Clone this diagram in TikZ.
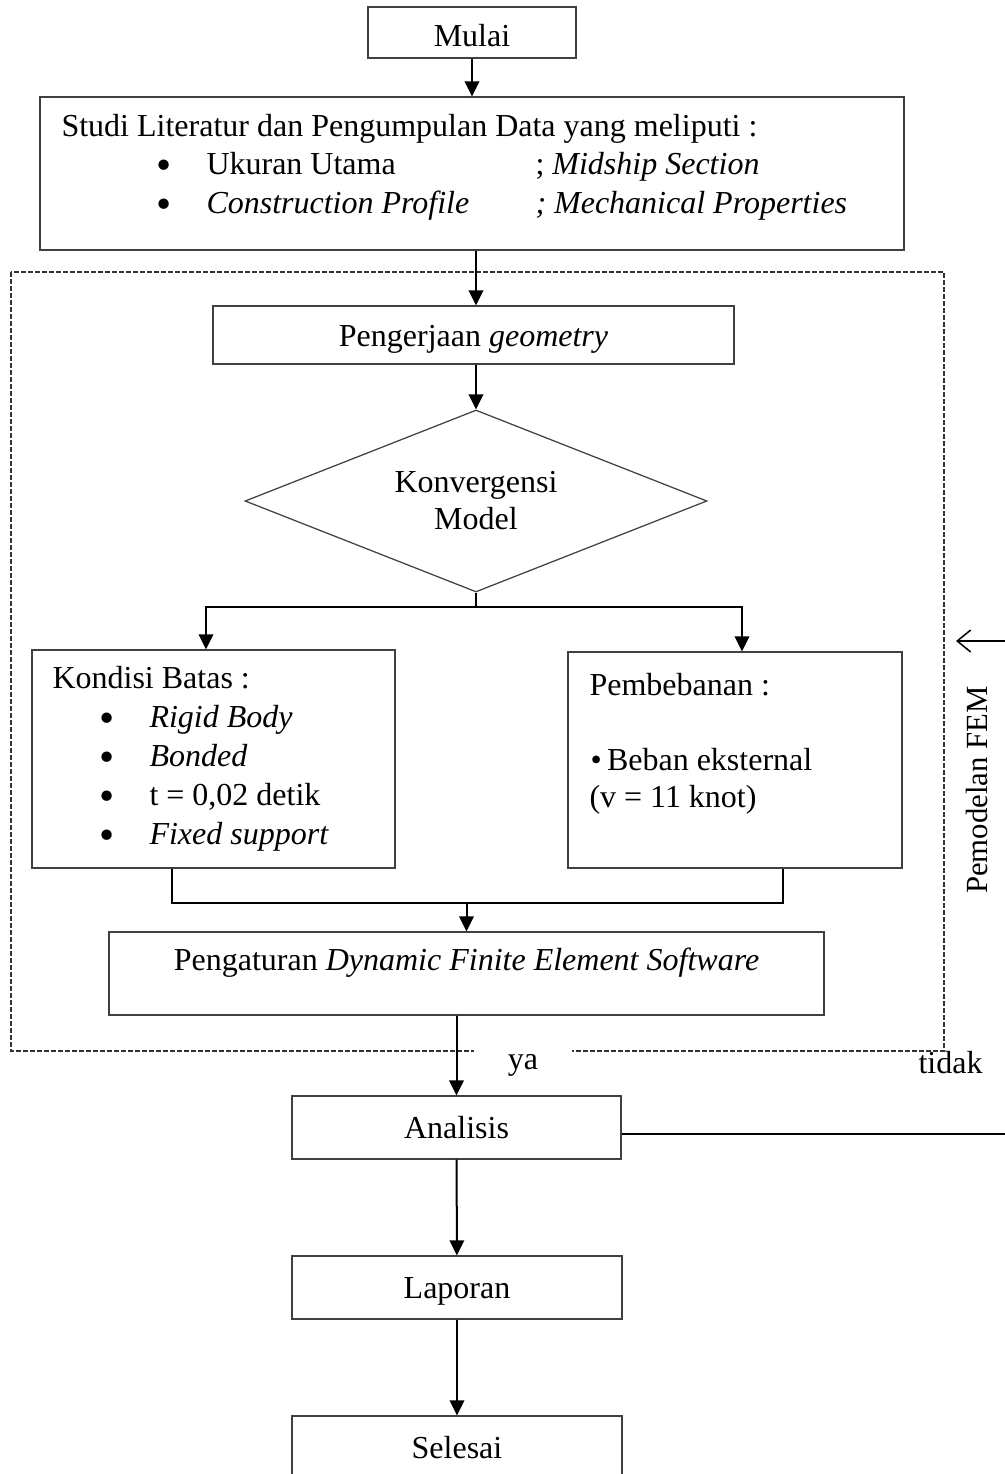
\documentclass[tikz,border=0pt]{standalone}
\usepackage{fontspec}
\setmainfont{Liberation Serif}
\usetikzlibrary{arrows.meta,shapes.geometric}

\newcommand{\butir}{\raisebox{-2.3pt}{\scalebox{1.35}{\textbullet}}}

\begin{document}
\begin{tikzpicture}[
    x=0.4pt, y=-0.4pt,
    font=\fontsize{12.8}{14.8}\selectfont,
    box/.style={draw=black!75, line width=0.5pt, inner sep=0pt, align=center, text height=9.2pt, text depth=0.4pt},
    decision/.style={diamond, draw=black!75, line width=0.5pt, aspect=2.5, inner sep=0pt, align=center, minimum width=184.8pt, minimum height=72.8pt},
    teks/.style={anchor=base west, inner sep=0pt},
    titik/.style={anchor=base, inner sep=0pt},
    arrow/.style={-{Triangle[length=6pt,width=5.8pt]}, line width=0.8pt},
    line/.style={line width=0.8pt},
    grup/.style={draw=black!80, line width=0.5pt, dash pattern=on 1.8pt off 1pt},
    balik/.style={-{Straight Barb[length=5.4pt,width=8.8pt]}, line width=0.6pt}
]
    \useasboundingbox (0,0) rectangle (1005,1474);
    \clip (0,0) rectangle (1005,1474);

    % Pemodelan FEM group
    \draw[grup] (11,272) rectangle (944,1051);

    % Main boxes
    \node[box, minimum width=83.2pt, minimum height=20.4pt, text height=11.6pt] (mulai) at (472,32.5) {Mulai};
    \node[box, minimum width=345.6pt, minimum height=61.2pt] (studi) at (472,173.5) {};
    \node[box, minimum width=208.4pt, minimum height=23.2pt] (geom) at (473.5,335) {Pengerjaan \textit{geometry}};
    \node[decision] (konv) at (476,501) {Konvergensi\\Model};
    \node[box, minimum width=145.2pt, minimum height=87.2pt] (kondisi) at (213.5,759) {};
    \node[box, minimum width=133.6pt, minimum height=86.4pt] (beban) at (735,760) {};
    \node[box, minimum width=286pt, minimum height=33.2pt, text depth=12pt] (dyn) at (466.5,973.5) {Pengaturan \textit{Dynamic Finite Element Software}};
    \node[box, minimum width=131.6pt, minimum height=25.2pt] (analisis) at (456.5,1127.5) {Analisis};
    \node[box, minimum width=132pt, minimum height=25.2pt] (laporan) at (457,1287.5) {Laporan};
    \node[box, minimum width=132pt, minimum height=25.2pt] (selesai) at (457,1447.5) {Selesai};

    % Box contents
    \node[teks] (studi1) at (61,136) {Studi Literatur dan Pengumpulan Data yang meliputi :};
    \node[titik] (studib1) at (164,174) {\butir};
    \node[teks] (studi2) at (206,174) {Ukuran Utama};
    \node[teks] (studi2b) at (535,174) {; \textit{Midship Section}};
    \node[titik] (studib2) at (164,213) {\butir};
    \node[teks] (studi3) at (206,213) {\textit{Construction Profile}};
    \node[teks] (studi3b) at (535,213) {\textit{; Mechanical Properties}};

    \node[teks] (batas) at (52,688) {Kondisi Batas :};
    \node[titik] (batasb1) at (107,727) {\butir};
    \node[teks] (batas1) at (149,727) {\textit{Rigid Body}};
    \node[titik] (batasb2) at (107,766) {\butir};
    \node[teks] (batas2) at (149,766) {\textit{Bonded}};
    \node[titik] (batasb3) at (107,805) {\butir};
    \node[teks] (batas3) at (149,805) {t = 0,02 detik};
    \node[titik] (batasb4) at (107,844) {\butir};
    \node[teks] (batas4) at (149,844) {\textit{Fixed support}};

    \node[teks] (beban1) at (589,695) {Pembebanan :};
    \node[teks] (beban2) at (590,770) {\textbullet\,Beban eksternal};
    \node[teks] (beban3) at (589,807) {(v = 11 knot)};

    % Side labels
    \node[fill=white, inner sep=0pt, minimum width=39.5pt, text height=12pt, text depth=4pt, anchor=base] (ya) at (523,1069) {ya};
    \node[teks] (tidak) at (918,1073) {tidak};
    \node[rotate=90, font=\fontsize{12.3}{14.8}\selectfont] (fem) at (977,790) {Pemodelan FEM};

    % Helper points
    \coordinate (cabang) at (476,607);
    \coordinate (gabung) at (466.5,903);
    \coordinate (gabungkiri) at (172,903);
    \coordinate (gabungkanan) at (783,903);
    \coordinate (tidakkanan) at (1010,1134);
    \coordinate (balikkanan) at (1010,641);
    \coordinate (balikujung) at (956,641);

    % Flow
    \draw[arrow] (mulai) -- (studi);
    \draw[arrow] (studi.south -| konv.north) -- (geom.north -| konv.north);
    \draw[arrow] (geom.south -| konv.north) -- (konv.north);
    \draw[line] (konv.south) -- (cabang);
    \draw[arrow] (cabang) -| ([xshift=-3pt]kondisi.north);
    \draw[arrow] (cabang) -| ([xshift=2.8pt]beban.north);
    \draw[line] (kondisi.south -| gabungkiri) -- (gabungkiri) -- (gabungkanan) -- (beban.south -| gabungkanan);
    \draw[arrow] (gabung) -- (dyn);
    \draw[arrow] (dyn.south -| analisis.north) -- (analisis.north);
    \draw[arrow] (analisis) -- (laporan);
    \draw[arrow] (laporan) -- (selesai);

    % Loop back (tidak)
    \draw[line] (analisis.east |- tidakkanan) -- (tidakkanan);
    \draw[balik] (balikkanan) -- (balikujung);
\end{tikzpicture}
\end{document}
